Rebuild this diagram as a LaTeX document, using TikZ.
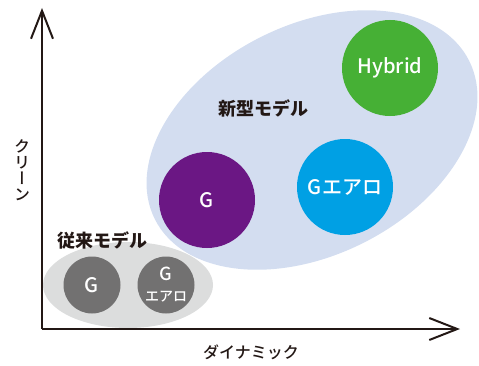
\documentclass[tikz,border=0pt]{standalone}
\usepackage{fontspec}
\setmainfont{Noto Sans CJK JP}
\newfontfamily\medfont{Noto Sans CJK JP Medium}
\newfontfamily\vertfont[RawFeature=+vert]{Noto Sans CJK JP Medium}
\usetikzlibrary{arrows.meta}

\definecolor{inkdark}{HTML}{231815}
\definecolor{newbg}{HTML}{D3DDF0}
\definecolor{oldbg}{HTML}{DCDDDD}
\definecolor{oldcar}{HTML}{727171}
\definecolor{purplecar}{HTML}{6B1784}
\definecolor{bluecar}{HTML}{00A0E4}
\definecolor{greencar}{HTML}{46B035}

\tikzset{
  car/.style={circle, minimum size=#1, inner sep=0pt, text=white, align=center,
    font=\medfont\fontsize{20}{24}\selectfont},
  group label/.style={text=inkdark, font=\bfseries\fontsize{18}{20}\selectfont},
  axis label/.style={text=inkdark, font=\medfont\fontsize{16}{16}\selectfont}
}

\begin{document}
\begin{tikzpicture}[x=1pt, y=1pt]

    % Fix the page size
    \useasboundingbox (0,0) rectangle (479,365);

    % Define the origin and axis ends
    \coordinate (O) at (42,36);
    \coordinate (Ytop) at (42,357);
    \coordinate (Xend) at (460,36);

    % Group backgrounds
    \fill[oldbg] (128,80) ellipse (85 and 43);
    \fill[newbg, rotate around={26.8:(312,225)}] (312,225) ellipse (176 and 115);

    % Draw the axes
    \draw[inkdark, line width=2pt, -{Straight Barb[length=28pt, width=22pt]}] (O) -- (Ytop);
    \draw[inkdark, line width=2pt, -{Straight Barb[length=28pt, width=22pt]}] (O) -- (Xend);

    % Conventional models
    \node[car=57pt, fill=oldcar] (oldG) at (92,80) {G};
    \node[car=57pt, fill=oldcar] (oldGaero) at (166,80)
      {{\fontsize{18}{21}\selectfont G}\\[-3pt]{\fontsize{14}{15}\selectfont エアロ}};

    % New models
    \node[car=96pt, fill=purplecar] (newG) at (207,165) {G};
    \node[car=96pt, fill=bluecar] (newGaero) at (345,178) {Gエアロ};
    \node[car=96pt, fill=greencar] (hybrid) at (390,297) {Hybrid};

    % Group labels
    \node[group label] (oldlabel) at (102,125) {従来モデル};
    \node[group label] (newlabel) at (263,257) {新型モデル};

    % Axis labels
    \node[axis label, align=center, font=\vertfont\fontsize{16}{16}\selectfont] (ylabel) at (22,195) {ク\\リ\\ー\\ン};
    \node[axis label] (xlabel) at (251,13) {ダイナミック};

\end{tikzpicture}
\end{document}
